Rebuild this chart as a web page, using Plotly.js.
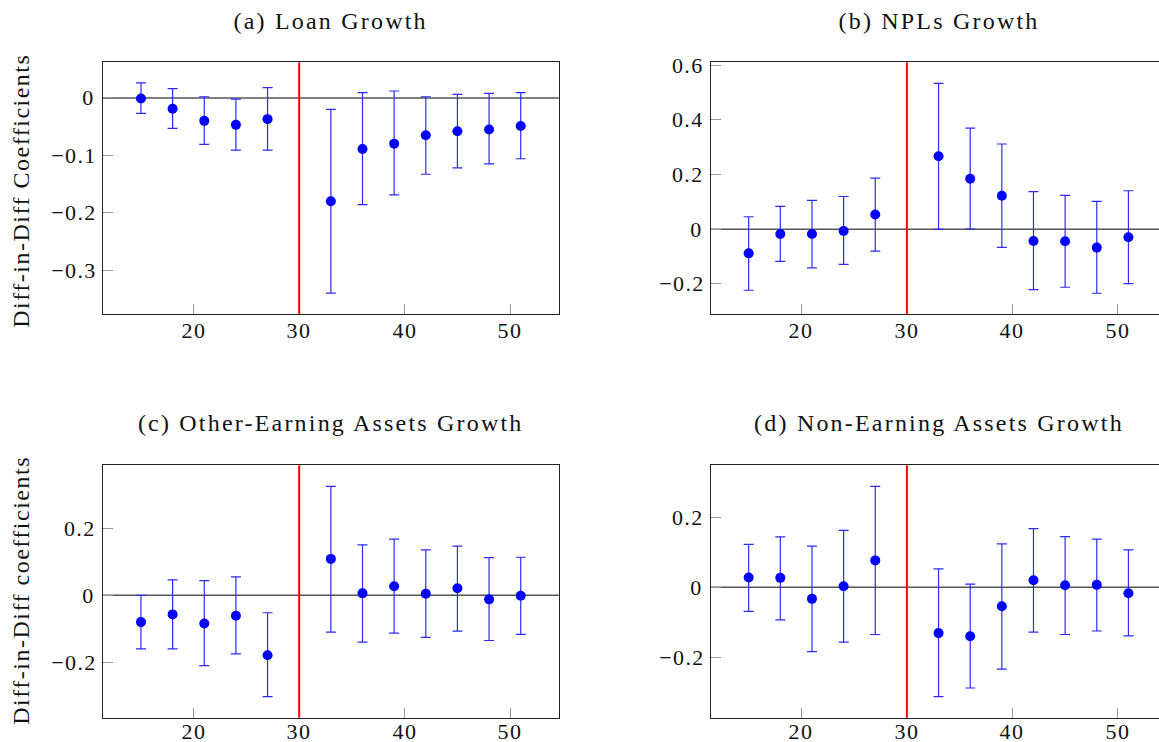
<!DOCTYPE html>
<html>
<head>
<meta charset="utf-8">
<script src="https://cdn.plot.ly/plotly-3.0.1.min.js"></script>
<style>
html, body { margin: 0; padding: 0; background: #fff; overflow: hidden; }
#chart { width: 1170px; height: 742px; }
#chart text { font-family: 'Liberation Serif', serif !important; }
#chart g.annotation text { letter-spacing: 1.4px; }
#chart g.annotation[data-index="0"] text,
#chart g.annotation[data-index="1"] text,
#chart g.annotation[data-index="2"] text,
#chart g.annotation[data-index="3"] text { letter-spacing: 2.2px; }
#chart g.annotation[data-index="4"] text,
#chart g.annotation[data-index="5"] text { letter-spacing: 1.5px; }
</style>
</head>
<body>
<div id="chart"></div>
<script>
// Event-time periods
const periods = [15, 18, 21, 24, 27, 33, 36, 39, 42, 45, 48, 51];
const treatmentPeriod = 30;

// (a) Loan Growth
const loanCoef  = [-0.001, -0.019, -0.040, -0.047, -0.037, -0.180, -0.089, -0.080, -0.065, -0.058, -0.055, -0.049];
const loanUpper = [ 0.026,  0.016,  0.002, -0.002,  0.018, -0.020,  0.009,  0.012,  0.002,  0.006,  0.008,  0.009];
const loanLower = [-0.027, -0.053, -0.081, -0.091, -0.091, -0.340, -0.186, -0.169, -0.133, -0.122, -0.115, -0.106];

// (b) NPLs Growth
const nplCoef  = [-0.088, -0.017, -0.017, -0.006,  0.054,  0.267,  0.185,  0.123, -0.043, -0.044, -0.067, -0.029];
const nplUpper = [ 0.046,  0.084,  0.106,  0.120,  0.187,  0.534,  0.370,  0.312,  0.138,  0.124,  0.102,  0.141];
const nplLower = [-0.223, -0.117, -0.141, -0.128, -0.080,  0.000,  0.001, -0.066, -0.221, -0.212, -0.234, -0.199];

// (c) Other-Earning Assets Growth
const oeaCoef  = [-0.080, -0.057, -0.084, -0.061, -0.179,  0.109,  0.006,  0.027,  0.005,  0.021, -0.012, -0.001];
const oeaUpper = [ 0.000,  0.046,  0.044,  0.055, -0.052,  0.326,  0.151,  0.168,  0.136,  0.147,  0.113,  0.114];
const oeaLower = [-0.160, -0.160, -0.210, -0.175, -0.303, -0.110, -0.140, -0.113, -0.126, -0.107, -0.135, -0.117];

// (d) Non-Earning Assets Growth
const neaCoef  = [ 0.028,  0.027, -0.033,  0.003,  0.077, -0.131, -0.140, -0.054,  0.020,  0.006,  0.007, -0.017];
const neaUpper = [ 0.123,  0.144,  0.118,  0.163,  0.289,  0.053,  0.009,  0.124,  0.168,  0.145,  0.138,  0.107];
const neaLower = [-0.069, -0.093, -0.184, -0.157, -0.135, -0.313, -0.288, -0.234, -0.128, -0.135, -0.125, -0.139];

const panelTitles = ["(a) Loan Growth", "(b) NPLs Growth", "(c) Other-Earning Assets Growth", "(d) Non-Earning Assets Growth"];
const yTitles = ["Diff-in-Diff Coefficients", "Diff-in-Diff coefficients"];
const xTickVals = [20, 30, 40, 50];
const xTickText = ["20", "30", "40", "50"];
const yTickSets = [
  [-0.3, -0.2, -0.1, 0],
  [-0.2, 0, 0.2, 0.4, 0.6],
  [-0.2, 0, 0.2],
  [-0.2, 0, 0.2]
];
const yTickTexts = [
  ["\u22120.3", "\u22120.2", "\u22120.1", "0"],
  ["\u22120.2", "0", "0.2", "0.4", "0.6"],
  ["\u22120.2", "0", "0.2"],
  ["\u22120.2", "0", "0.2"]
];
const yRanges = [[-0.377, 0.062], [-0.311, 0.611], [-0.366, 0.389], [-0.373, 0.349]];
const xRange = [11.4, 54.6];

const W = 1170, H = 742;
const FONT = "Liberation Serif";

const series = [
  [loanCoef, loanUpper, loanLower],
  [nplCoef, nplUpper, nplLower],
  [oeaCoef, oeaUpper, oeaLower],
  [neaCoef, neaUpper, neaLower]
];

// panel boxes in px: [left, right, top, bottom]
const boxes = [
  [103, 558.7, 62.3, 314.3],
  [710.7, 1166.4, 62.3, 314.3],
  [103, 558.7, 465.3, 717.7],
  [710.7, 1166.4, 465.3, 717.7]
];

const traces = [];
const layout = {
  width: W, height: H,
  margin: {l: 0, r: 0, t: 0, b: 0},
  paper_bgcolor: "#fff",
  plot_bgcolor: "#fff",
  showlegend: false,
  font: {family: FONT, color: "#000", size: 17},
  shapes: [],
  annotations: []
};
const tickAnnotations = [];

series.forEach((s, i) => {
  const [coef, up, lo] = s;
  const n = i + 1;
  const xa = n === 1 ? "x" : "x" + n;
  const ya = n === 1 ? "y" : "y" + n;
  traces.push({
    type: "scatter", mode: "markers",
    x: periods, y: coef,
    xaxis: xa, yaxis: ya,
    marker: {color: "#0000ff", size: 10},
    error_y: {
      type: "data", symmetric: false,
      array: coef.map((c, k) => up[k] - c),
      arrayminus: coef.map((c, k) => c - lo[k]),
      color: "#2a2aff", thickness: 1.2, width: 5
    },
    hoverinfo: "skip"
  });
  const b = boxes[i];
  const axCommon = {
    showgrid: false, zeroline: false,
    showline: true, mirror: true, linecolor: "#222", linewidth: 1,
    ticks: "inside", ticklen: 10, tickwidth: 1, tickcolor: "#999",
    showticklabels: false,
    fixedrange: true
  };
  layout["xaxis" + (n === 1 ? "" : n)] = Object.assign({}, axCommon, {
    domain: [b[0] / W, b[1] / W],
    anchor: ya,
    range: xRange,
    tickvals: xTickVals
  });
  layout["yaxis" + (n === 1 ? "" : n)] = Object.assign({}, axCommon, {
    domain: [1 - b[3] / H, 1 - b[2] / H],
    anchor: xa,
    range: yRanges[i],
    tickvals: yTickSets[i]
  });
  // zero reference line
  layout.shapes.push({
    type: "line", xref: xa + " domain", yref: ya,
    x0: 0, x1: 1, y0: 0, y1: 0,
    line: {color: "#555", width: 1.5}, layer: "below"
  });
  // treatment line
  layout.shapes.push({
    type: "line", xref: xa, yref: ya + " domain",
    x0: treatmentPeriod, x1: treatmentPeriod, y0: 0, y1: 1,
    line: {color: "#ff0000", width: 2}, layer: "above"
  });
  // panel title
  layout.annotations.push({
    text: panelTitles[i], showarrow: false,
    xref: "paper", yref: "paper",
    x: (b[0] + b[1]) / 2 / W, y: 1 - (i < 2 ? 21 : 423) / H,
    xanchor: "center", yanchor: "middle",
    font: {family: FONT, size: 24, color: "#111"}
  });
  // tick labels (drawn as annotations on the axes' own scales)
  xTickVals.forEach((v, k) => {
    tickAnnotations.push({
      text: xTickText[k], showarrow: false,
      xref: xa, yref: ya + " domain", x: v, y: 0,
      xanchor: "center", yanchor: "middle", yshift: i < 2 ? -16 : -14,
      font: {family: FONT, size: 22, color: "#111"}
    });
  });
  yTickSets[i].forEach((v, k) => {
    tickAnnotations.push({
      text: yTickTexts[i][k], showarrow: false,
      xref: xa + " domain", yref: ya, x: 0, y: v,
      xanchor: "right", yanchor: "middle", xshift: -7,
      font: {family: FONT, size: 22, color: "#111"}
    });
  });
});

// y-axis titles (left column)
[191, 591].forEach((yc, j) => {
  layout.annotations.push({
    text: yTitles[j], showarrow: false, textangle: -90,
    xref: "paper", yref: "paper",
    x: 21 / W, y: 1 - yc / H,
    xanchor: "center", yanchor: "middle",
    font: {family: FONT, size: 24, color: "#111"}
  });
});
layout.annotations = layout.annotations.concat(tickAnnotations);

Plotly.newPlot("chart", traces, layout, {displayModeBar: false, staticPlot: true});
</script>
</body>
</html>
